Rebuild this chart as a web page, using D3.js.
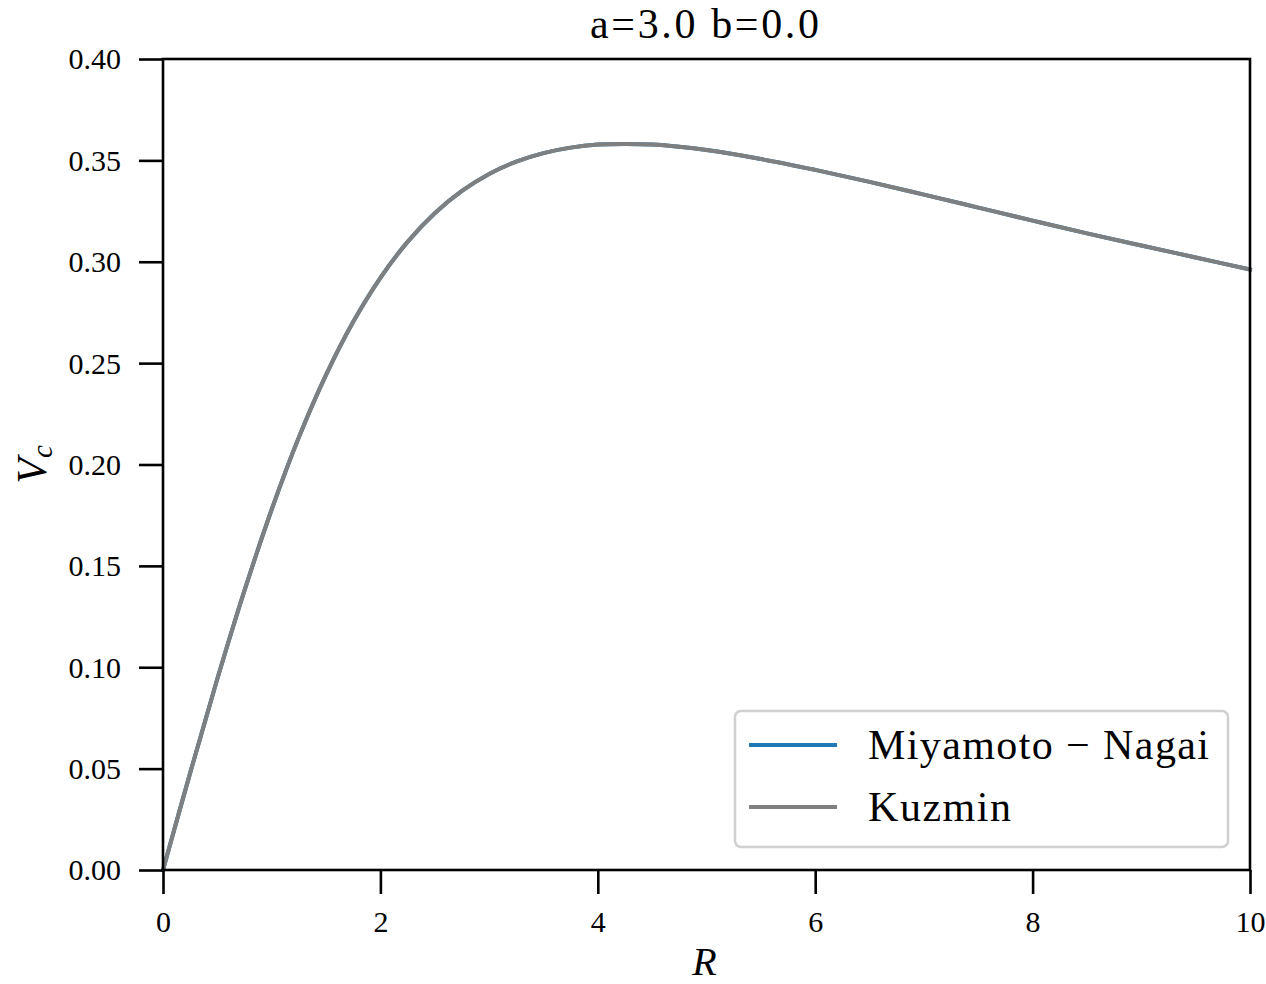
<!DOCTYPE html>
<html>
<head>
<meta charset="utf-8">
<script src="https://cdn.jsdelivr.net/npm/d3@7"></script>
<style>
  html, body { margin: 0; padding: 0; background: #fff; }
  svg text { font-family: "Liberation Serif", "DejaVu Serif", serif; fill: #000; }
</style>
</head>
<body>
<svg id="chart" width="1266" height="984"></svg>
<script>
// Radius samples and circular velocity of the disk (a = 3.0, b = 0.0)
const radius = [0, 0.25, 0.5, 0.75, 1, 1.25, 1.5, 1.75, 2, 2.25, 2.5, 2.75, 3, 3.25, 3.5, 3.75, 4, 4.25, 4.5, 4.75, 5, 5.5, 6, 6.5, 7, 7.5, 8, 8.5, 9, 9.5, 10];
const vcMiyamotoNagai = [0, 0.0479, 0.0943, 0.1379, 0.1778, 0.2134, 0.2442, 0.2704, 0.2921, 0.3098, 0.3239, 0.3349, 0.3433, 0.3494, 0.3536, 0.3563, 0.3578, 0.3581, 0.3578, 0.3567, 0.3551, 0.3507, 0.3453, 0.3394, 0.3331, 0.3267, 0.3203, 0.3140, 0.3080, 0.3021, 0.2962];
const vcKuzmin = [0, 0.0479, 0.0943, 0.1379, 0.1778, 0.2134, 0.2442, 0.2704, 0.2921, 0.3098, 0.3239, 0.3349, 0.3433, 0.3494, 0.3536, 0.3563, 0.3578, 0.3581, 0.3578, 0.3567, 0.3551, 0.3507, 0.3453, 0.3394, 0.3331, 0.3267, 0.3203, 0.3140, 0.3080, 0.3021, 0.2962];
const seriesNames = ["Miyamoto \u2212 Nagai", "Kuzmin"];
const seriesColors = ["#1f77b4", "#7f7f7f"];
const xTicks = [0, 2, 4, 6, 8, 10];
const yTicks = [0.00, 0.05, 0.10, 0.15, 0.20, 0.25, 0.30, 0.35, 0.40];
const titleText = "a=3.0 b=0.0";

const svg = d3.select("#chart");
const plotLeft = 163, plotRight = 1250, plotTop = 59, plotBottom = 870;

const x = d3.scaleLinear().domain([0, 10]).range([plotLeft, plotRight]);
const y = d3.scaleLinear().domain([0, 0.4]).range([plotBottom, plotTop]);

// curves
const line = d3.line().x(d => x(d[0])).y(d => y(d[1])).curve(d3.curveCatmullRom.alpha(0.5));
const series = [vcMiyamotoNagai, vcKuzmin];
series.forEach((vals, i) => {
  svg.append("path")
    .datum(radius.map((r, j) => [r, vals[j]]))
    .attr("d", line)
    .attr("fill", "none")
    .attr("stroke", seriesColors[i])
    .attr("stroke-width", 4)
    .attr("stroke-linecap", "square");
});

// axes
const xAxis = d3.axisBottom(x).tickValues(xTicks).tickSize(24).tickPadding(12).tickFormat(d3.format("d"));
const yAxis = d3.axisLeft(y).tickValues(yTicks).tickSize(24).tickPadding(18).tickFormat(d3.format(".2f"));

const gx = svg.append("g").attr("transform", `translate(0,${plotBottom})`).call(xAxis);
const gy = svg.append("g").attr("transform", `translate(${plotLeft},0)`).call(yAxis);
[gx, gy].forEach(g => {
  g.select(".domain").remove();
  g.selectAll(".tick line").attr("stroke", "#000").attr("stroke-width", 2.6);
  g.selectAll(".tick text").attr("font-size", 30).style("font-family", '"Liberation Serif", serif');
});
gx.selectAll(".tick text").attr("dy", "0.85em");
gy.selectAll(".tick text").attr("dy", "0.33em");

// frame
svg.append("rect")
  .attr("x", plotLeft).attr("y", plotTop)
  .attr("width", plotRight - plotLeft).attr("height", plotBottom - plotTop)
  .attr("fill", "none").attr("stroke", "#000").attr("stroke-width", 2.6);

// title and axis labels
svg.append("text").attr("x", 590).attr("y", 38)
  .attr("font-size", 42).attr("textLength", 229).attr("lengthAdjust", "spacing").text(titleText);
svg.append("text").attr("x", (plotLeft + plotRight) / 2 - 2).attr("y", 975)
  .attr("text-anchor", "middle").attr("font-size", 40).attr("font-style", "italic").text("R");
const yl = svg.append("text").attr("transform", `translate(46,${(plotTop + plotBottom) / 2}) rotate(-90)`)
  .attr("text-anchor", "middle").attr("font-size", 42).attr("font-style", "italic");
yl.append("tspan").text("V");
yl.append("tspan").attr("font-size", 29).attr("dy", 6).text("c");

// legend
const lg = svg.append("g");
lg.append("rect").attr("x", 735).attr("y", 711).attr("width", 493).attr("height", 136)
  .attr("rx", 6).attr("fill", "#fff").attr("fill-opacity", 0.8)
  .attr("stroke", "#d0d0d0").attr("stroke-width", 2.5);
const legendWidths = [341, 143];
seriesNames.forEach((name, i) => {
  const yy = 745 + i * 62;
  lg.append("line").attr("x1", 749).attr("x2", 837).attr("y1", yy).attr("y2", yy)
    .attr("stroke", seriesColors[i]).attr("stroke-width", 4);
  lg.append("text").attr("x", 868).attr("y", yy + 14).attr("font-size", 42)
    .attr("textLength", legendWidths[i]).attr("lengthAdjust", "spacing").text(name);
});
</script>
</body>
</html>
